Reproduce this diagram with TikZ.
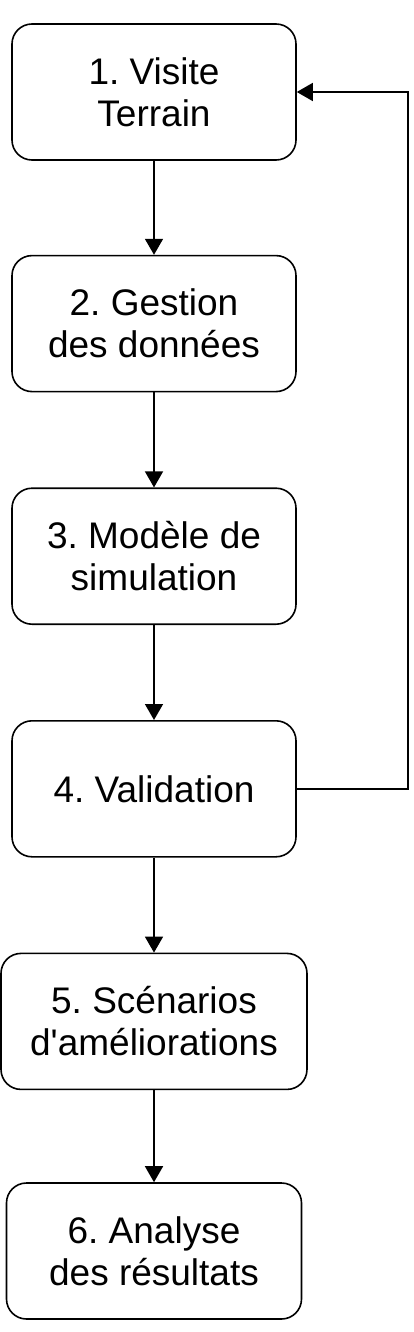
\documentclass[tikz,border=0pt]{standalone}
\usepackage{fontspec}
\setmainfont{Liberation Sans}[Ligatures=TeXOff]
\usetikzlibrary{arrows.meta,positioning}

\begin{document}
\frenchspacing
\begin{tikzpicture}[
  font=\fontsize{37}{42}\selectfont,
  bx/.style={draw, rounded corners=20pt, line width=1.6pt, align=center,
    minimum width=284pt, minimum height=136pt, inner sep=4pt},
  arr/.style={-{Triangle[length=16pt,width=18pt]}, line width=1.6pt}
]
\useasboundingbox (0,0) rectangle (414pt,-1332pt);
\node[bx] at (154pt,-92pt) (vis) {1. Visite\\Terrain};
\node[bx, below=94pt of vis] (ges) {2. Gestion\\des données};
\node[bx, below=95pt of ges] (mod) {3. Modèle de\\simulation};
\node[bx, below=95pt of mod] (val) {4. Validation};
\node[bx, below=95pt of val, minimum width=306pt] (sce) {5. Scénarios\\d'améliorations};
\node[bx, below=92pt of sce, minimum width=295pt] (ana) {6. Analyse\\des résultats};
\draw[arr] (vis)--(ges);
\draw[arr] (ges)--(mod);
\draw[arr] (mod)--(val);
\draw[arr] (val)--(sce);
\draw[arr] (sce)--(ana);
% retour validation -> visite
\draw[arr] (val.east) -- ++(111pt,0) |- (vis.east);
\end{tikzpicture}
\end{document}
